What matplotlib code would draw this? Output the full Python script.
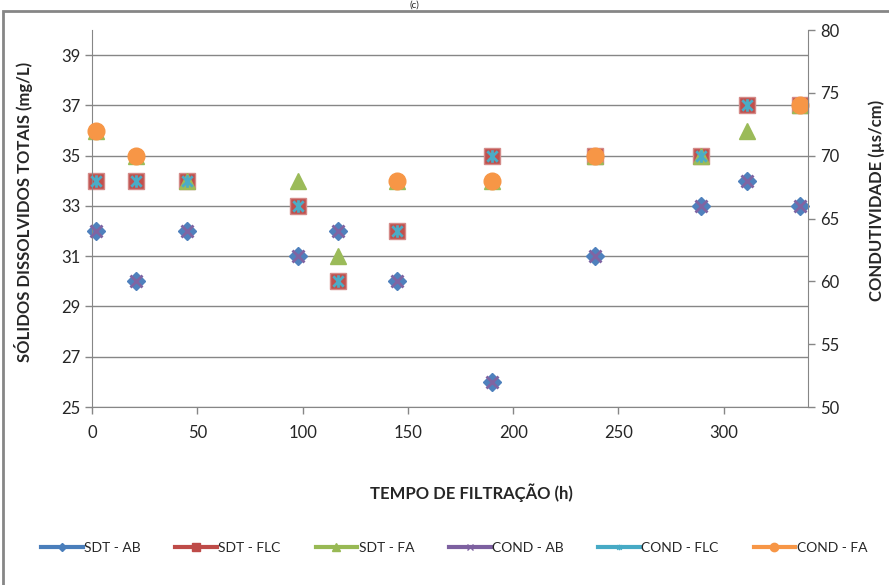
import matplotlib
matplotlib.use("Agg")
import matplotlib.pyplot as plt
import numpy as np
from matplotlib.lines import Line2D
from matplotlib.patches import Rectangle
from matplotlib.path import Path

plt.rcParams["font.family"] = ["Lato", "DejaVu Sans"]

# filtration time (h)
tempo = [2, 21, 45, 98, 117, 145, 190, 239, 289, 311, 336]

# total dissolved solids (mg/L)
sdt_ab = [32, 30, 32, 31, 32, 30, 26, 31, 33, 34, 33]
sdt_flc = [34, 34, 34, 33, 30, 32, 35, 35, 35, 37, 37]
sdt_fa = [36, 35, 34, 34, 31, 34, 34, 35, 35, 36, 37]

# conductivity (us/cm)
cond_ab = [64, 60, 64, 62, 64, 60, 52, 62, 66, 68, 66]
cond_flc = [68, 68, 68, 66, 60, 64, 70, 70, 70, 74, 74]
cond_fa = [72, 70, np.nan, np.nan, np.nan, 68, 68, 70, np.nan, np.nan, 74]

# excel style star: an x with a vertical bar
star = Path([(-1, -1), (1, 1), (-1, 1), (1, -1), (0, -1.2), (0, 1.2)],
            [Path.MOVETO, Path.LINETO, Path.MOVETO, Path.LINETO, Path.MOVETO, Path.LINETO])

grey = "#868686"
txt = "#262626"

fig = plt.figure(figsize=(8.89, 5.85), dpi=100)
ax = fig.add_axes([92 / 889, 1 - 407 / 585, 716 / 889, 377 / 585])
ax2 = ax.twinx()

ax.set_xlim(0, 340)
ax.set_ylim(25, 40)
ax2.set_ylim(50, 80)
ax.set_xticks(range(0, 301, 50))
ax.set_yticks(range(25, 40, 2))
ax2.set_yticks(range(50, 81, 5))

ax.grid(axis="y", color=grey, linewidth=1)
ax.set_axisbelow(True)
for a in (ax, ax2):
    a.spines["top"].set_visible(False)
    for s in ("left", "right", "bottom"):
        a.spines[s].set_color(grey)
    a.tick_params(colors=grey, labelcolor=txt, labelsize=12, length=5, width=1)
ax.spines["right"].set_visible(False)
ax2.spines["left"].set_visible(False)
ax2.spines["bottom"].set_visible(False)
ax.tick_params(axis="x", pad=8)
ax2.patch.set_visible(False)

ms = 11
ax.plot(tempo, sdt_ab, ls="none", marker="D", ms=9, color="#4F81BD", clip_on=False)
ax.plot(tempo, sdt_flc, ls="none", marker="s", ms=ms, color="#C0504D", mec="#D48A88", clip_on=False)
ax.plot(tempo, sdt_fa, ls="none", marker="^", ms=ms, color="#9BBB59", clip_on=False)
ax2.plot(tempo, cond_ab, ls="none", marker="x", ms=9, mew=2, color="#8064A2", clip_on=False)
ax2.plot(tempo, cond_flc, ls="none", marker=star, ms=9, mew=2, color="#4BACC6", clip_on=False)
ax2.plot(tempo, cond_fa, ls="none", marker="o", ms=12, color="#F79646", clip_on=False)

fig.text(24 / 889, 1 - 212 / 585, "SÓLIDOS DISSOLVIDOS TOTAIS (mg/L)", rotation=90,
         ha="center", va="center", fontsize=12, fontweight="bold", color=txt)
fig.text(877 / 889, 1 - 200 / 585, "CONDUTIVIDADE (µs/cm)", rotation=90,
         ha="center", va="center", fontsize=12, fontweight="bold", color=txt)
fig.text(471 / 889, 1 - 493 / 585, "TEMPO DE FILTRAÇÃO (h)",
         ha="center", va="center", fontsize=12, fontweight="bold", color=txt)
fig.text(414 / 889, 0.999, "(c)", ha="center", va="top", fontsize=7, color=txt)

# chart area border
fig.patches.append(Rectangle((3 / 889, -0.1), 1.2, 1.1 - 11 / 585, transform=fig.transFigure,
                             fill=False, edgecolor=grey, linewidth=2))

handles = [
    Line2D([], [], color="#4A7EBB", lw=3, marker="D", ms=4),
    Line2D([], [], color="#BE4B48", lw=3, marker="s", ms=6),
    Line2D([], [], color="#98B954", lw=3, marker="^", ms=6),
    Line2D([], [], color="#7D60A0", lw=3, marker="x", ms=5, mew=1),
    Line2D([], [], color="#46AAC5", lw=3, marker=star, ms=4, mew=1),
    Line2D([], [], color="#F79646", lw=3, marker="o", ms=6),
]
labels = ["SDT - AB", "SDT - FLC", "SDT - FA", "COND - AB", "COND - FLC", "COND - FA"]
fig.legend(handles, labels, loc="center", bbox_to_anchor=(454 / 889, 1 - 548 / 585), ncol=6,
           frameon=False, fontsize=10, handlelength=3, handletextpad=0.1, columnspacing=2.5,
           labelcolor=txt)

fig.savefig("out.png", dpi=100)
